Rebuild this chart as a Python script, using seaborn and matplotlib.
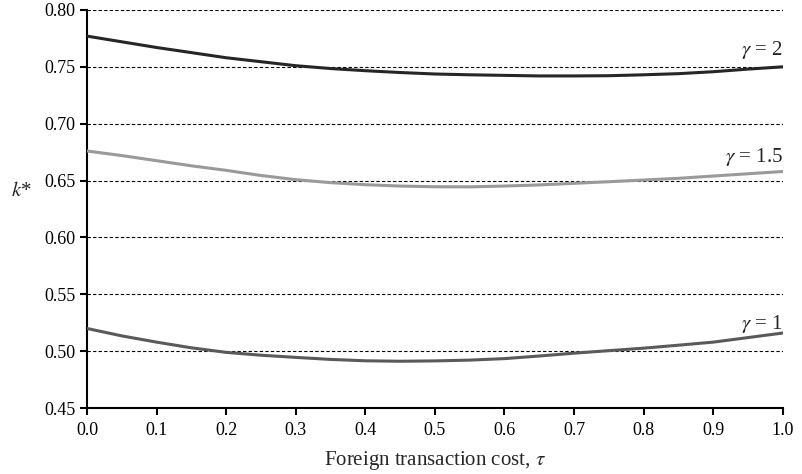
import matplotlib
matplotlib.use("Agg")
import matplotlib.pyplot as plt
import seaborn as sns
import pandas as pd

tau = [0.0, 0.05, 0.1, 0.15, 0.2, 0.25, 0.3, 0.35, 0.4, 0.45, 0.5,
       0.55, 0.6, 0.65, 0.7, 0.75, 0.8, 0.85, 0.9, 0.95, 1.0]
k_gamma2 = [0.777, 0.772, 0.767, 0.7625, 0.758, 0.7545, 0.751, 0.7485, 0.7466, 0.745, 0.7437,
            0.743, 0.7425, 0.742, 0.742, 0.7422, 0.743, 0.744, 0.7457, 0.748, 0.750]
k_gamma15 = [0.676, 0.672, 0.6675, 0.663, 0.659, 0.6545, 0.6508, 0.6482, 0.6464, 0.6452, 0.6446,
             0.6445, 0.6452, 0.6462, 0.6476, 0.649, 0.6505, 0.652, 0.654, 0.656, 0.658]
k_gamma1 = [0.520, 0.5135, 0.508, 0.503, 0.499, 0.4965, 0.4946, 0.4928, 0.4916, 0.4912, 0.4915,
            0.4922, 0.4935, 0.4958, 0.4983, 0.5005, 0.5027, 0.5053, 0.508, 0.512, 0.516]
series_labels = ["γ = 2", "γ = 1.5", "γ = 1"]
colors = ["#262626", "#9a9a9a", "#5a5a5a"]
yticks = [0.45, 0.50, 0.55, 0.60, 0.65, 0.70, 0.75, 0.80]
xticks = [0.0, 0.1, 0.2, 0.3, 0.4, 0.5, 0.6, 0.7, 0.8, 0.9, 1.0]

sns.set_theme(style="ticks")
plt.rcParams["font.family"] = ["Liberation Serif", "DejaVu Serif"]
plt.rcParams["mathtext.fontset"] = "stix"

rows = []
for lab, vals in zip(series_labels, [k_gamma2, k_gamma15, k_gamma1]):
    for t, v in zip(tau, vals):
        rows.append({"tau": t, "k": v, "series": lab})
df = pd.DataFrame(rows)

fig = plt.figure(figsize=(8.02, 4.74), dpi=100)
ax = fig.add_axes([0.1085, 0.139, 0.8675, 0.840])

for y in yticks[1:]:
    ax.axhline(y, color="black", linestyle=(0, (3, 2)), linewidth=0.8, zorder=1)

sns.lineplot(data=df, x="tau", y="k", hue="series", hue_order=series_labels,
             palette=colors, linewidth=2.2, legend=False, ax=ax, zorder=3)

ax.set_xlim(0, 1.0)
ax.set_ylim(0.45, 0.80)
ax.set_xticks(xticks)
ax.set_xticklabels([f"{x:.1f}" for x in xticks])
ax.set_yticks(yticks)
ax.set_yticklabels([f"{y:.2f}" for y in yticks])
ax.tick_params(axis="both", direction="out", length=5, width=1.5, labelsize=13, colors="black")
ax.tick_params(axis="x", pad=5)
for s in ["top", "right"]:
    ax.spines[s].set_visible(False)
for s in ["left", "bottom"]:
    ax.spines[s].set_linewidth(1.5)
    ax.spines[s].set_color("black")

ax.set_xlabel("Foreign transaction cost, $\\tau$", fontsize=15, labelpad=7)
ax.set_ylabel("$k$*", fontsize=15, rotation=0)
ax.yaxis.set_label_coords(-0.095, 0.52)

label_y = [0.765, 0.671, 0.524]
for lab, ly in zip(series_labels, label_y):
    ax.text(1.0, ly, lab.replace("γ", "$\\gamma$"), ha="right", va="center", fontsize=15)

fig.savefig("out.png", dpi=100)
